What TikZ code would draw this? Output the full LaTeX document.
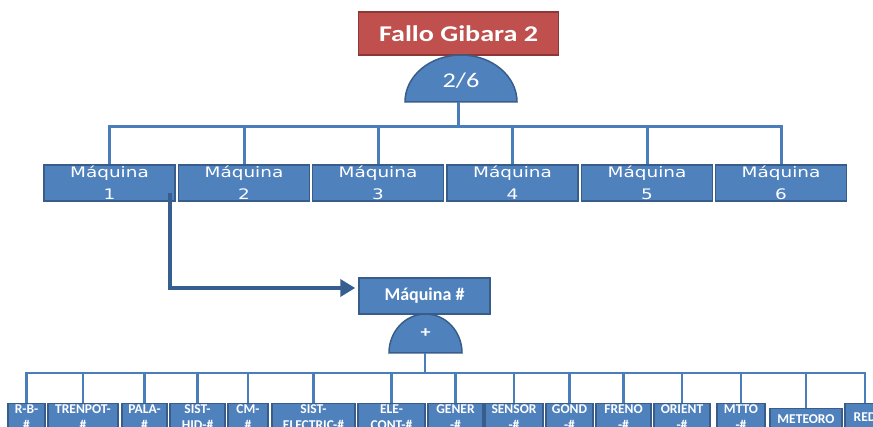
\documentclass[tikz,border=0pt]{standalone}
\usepackage{fontspec}
\usetikzlibrary{arrows.meta}
\newfontfamily\calfont[FakeStretch=1.25]{Carlito}
\newfontfamily\calplain{Carlito}
\newfontfamily\dvfont[FakeStretch=1.27]{DejaVu Sans}
\definecolor{boxblue}{RGB}{79,129,189}
\definecolor{boxedge}{RGB}{56,93,138}
\definecolor{linkblue}{RGB}{74,126,187}
\definecolor{redfill}{RGB}{192,80,77}
\definecolor{rededge}{RGB}{140,56,54}
\definecolor{arrowblue}{RGB}{55,94,145}
\begin{document}
\begin{tikzpicture}[x=1pt,y=-1pt,
  titlebox/.style={draw=rededge, line width=1.5pt, fill=redfill, minimum width=200pt, minimum height=43pt, inner sep=0pt, text=white, font=\calfont\bfseries\fontsize{22.5}{27}\selectfont},
  machine/.style={draw=boxedge, line width=1.5pt, fill=boxblue, minimum width=131pt, minimum height=36pt, inner sep=0pt, text=white, align=center, font=\dvfont\fontsize{14.5}{22}\selectfont},
  subtitle/.style={draw=boxedge, line width=1.5pt, fill=boxblue, minimum width=131pt, minimum height=36pt, inner sep=0pt, text=white, font=\calplain\bfseries\fontsize{18}{21}\selectfont},
  gate/.style={draw=boxedge, line width=1.5pt, fill=boxblue},
  gatetext/.style={text=white, inner sep=0pt},
  link/.style={draw=linkblue, line width=3pt},
  linkb/.style={draw=linkblue, line width=2.5pt},
  arrowline/.style={draw=arrowblue, line width=4pt, -{Triangle[length=15pt,width=17pt]}},
  bbox/.style={draw=boxedge, line width=1.2pt, fill=boxblue, anchor=north, minimum height=45pt, inner sep=0pt},
  btext/.style={text=white, anchor=north, align=center, inner sep=0pt, font=\calplain\bfseries\fontsize{13.5}{16}\selectfont}
]
\useasboundingbox (0,0) rectangle (873,427);
\clip (0,0) rectangle (873,427);

% top event
\node[titlebox] (top) at (458.5,33.5) {Fallo Gibara 2};
\draw[gate] (405,102) arc[start angle=180, end angle=0, x radius=56pt, y radius=47pt] -- cycle;
\node[gatetext, font=\calfont\fontsize{21}{25}\selectfont] (gt1) at (461,81) {2/6};
\coordinate (g1) at (458,102);
\coordinate (bus1) at (458,127);

% machines
\node[machine] (m1) at (109.5,183) {Máquina\\1};
\node[machine] (m2) at (244,183) {Máquina\\2};
\node[machine] (m3) at (378,183) {Máquina\\3};
\node[machine] (m4) at (512.5,183) {Máquina\\4};
\node[machine] (m5) at (647,183) {Máquina\\5};
\node[machine] (m6) at (781,183) {Máquina\\6};

\draw[link] (g1) -- (bus1);
\foreach \m in {m1,m2,m3,m4,m5,m6}{
  \draw[link] (\m.north) |- (bus1);
}

% arrow to generic machine
\node[subtitle] (mh) at (424.5,296) {Máquina \#};
\coordinate (a0) at (170,193);
\draw[arrowline, shorten >=3pt] (a0) |- ([yshift=8pt]mh.west);

\draw[gate] (389,353) arc[start angle=180, end angle=0, x radius=36.5pt, y radius=39pt] -- cycle;
\node[gatetext, font=\calfont\bfseries\fontsize{16}{19}\selectfont] (gt2) at (425.5,333) {+};
\coordinate (g2) at (425,353);
\coordinate (bus2) at (425,373);

% bottom boxes
\node[bbox, minimum width=37pt] (b1) at (26.5,403) {};
\node[bbox, minimum width=70pt] (b2) at (83,403) {};
\node[bbox, minimum width=45pt] (b3) at (144.5,403) {};
\node[bbox, minimum width=55pt] (b4) at (197.5,403) {};
\node[bbox, minimum width=40pt] (b5) at (248,403) {};
\node[bbox, minimum width=83pt] (b6) at (313.5,403) {};
\node[bbox, minimum width=67pt] (b7) at (391.5,403) {};
\node[bbox, minimum width=55pt] (b8) at (455.5,403) {};
\node[bbox, minimum width=58pt] (b9) at (514,403) {};
\node[bbox, minimum width=47pt] (b10) at (569.5,403) {};
\node[bbox, minimum width=55pt] (b11) at (623.5,403) {};
\node[bbox, minimum width=56pt] (b12) at (682,403) {};
\node[bbox, minimum width=48pt] (b13) at (741,403) {};
\node[bbox, minimum width=72pt] (b14) at (806,408) {};
\node[bbox, minimum width=40pt] (b15) at (865,403) {};

\draw[linkb] (g2) -- (bus2);
\foreach \b in {b1,b2,b3,b4,b5,b6,b7,b8,b9,b10,b11,b12,b13,b14,b15}{
  \draw[linkb] (\b.north) |- (bus2);
}

\node[btext] (t1) at (26.5,404.5) {R-B-\\\#};
\node[btext] (t2) at (83,404.5) {TRENPOT-\\\#};
\node[btext] (t3) at (144.5,404.5) {PALA-\\\#};
\node[btext] (t4) at (197.5,404.5) {SIST-\\HID-\#};
\node[btext] (t5) at (248,404.5) {CM-\\\#};
\node[btext] (t6) at (313.5,404.5) {SIST-\\ELECTRIC-\#};
\node[btext] (t7) at (391.5,404.5) {ELE-\\CONT-\#};
\node[btext] (t8) at (455.5,404.5) {GENER\\-\#};
\node[btext] (t9) at (514,404.5) {SENSOR\\-\#};
\node[btext] (t10) at (569.5,404.5) {GOND\\-\#};
\node[btext] (t11) at (623.5,404.5) {FRENO\\-\#};
\node[btext] (t12) at (682,404.5) {ORIENT\\-\#};
\node[btext] (t13) at (741,404.5) {MTTO\\-\#};
\node[btext] (t14) at (806,414) {METEORO};
\node[btext] (t15) at (865,413) {RED};
\end{tikzpicture}
\end{document}
